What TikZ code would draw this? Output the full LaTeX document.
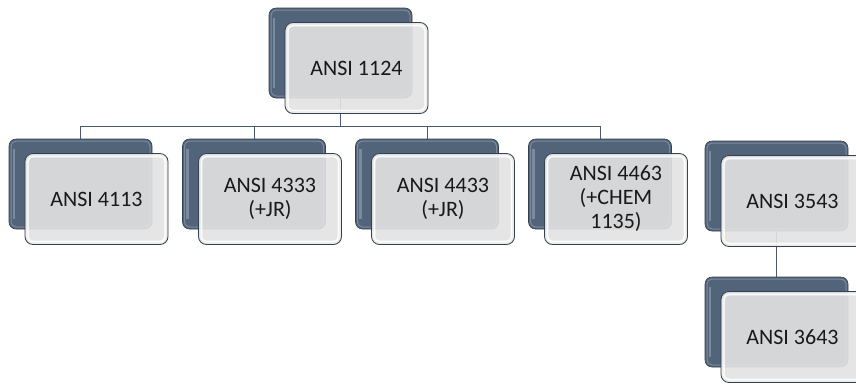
\documentclass[tikz,border=0pt]{standalone}
\usepackage{fontspec}
\setmainfont{Carlito}
\usetikzlibrary{backgrounds,calc}
\definecolor{backfill}{HTML}{52647A}
\definecolor{backedge}{HTML}{34424F}
\definecolor{backhi}{HTML}{8C9CB0}
\definecolor{frontfill}{HTML}{E3E3E3}
\definecolor{frontedge}{HTML}{34414F}
\definecolor{connclr}{HTML}{4A5A6E}
\tikzset{
  backbox/.style={draw=backedge, line width=0.6pt, rounded corners=7pt,
    fill=backfill, minimum width=143pt, minimum height=90pt, inner sep=0pt,
    path picture={
      \draw[backhi, line width=2.5pt, opacity=0.7]
        ([shift={(5pt,-10pt)}]path picture bounding box.north west) --
        ([shift={(5pt,10pt)}]path picture bounding box.south west);
      \draw[white, line width=1pt, opacity=0.25, rounded corners=5pt]
        ([shift={(2pt,-2pt)}]path picture bounding box.north west) rectangle
        ([shift={(-2pt,2pt)}]path picture bounding box.south east);
    }},
  frontbox/.style={draw=frontedge, line width=0.8pt, rounded corners=8pt,
    fill=frontfill, fill opacity=0.9, text opacity=1,
    minimum width=143pt, minimum height=91pt, inner sep=2pt,
    align=center, text=black!90,
    font=\fontsize{22}{24}\selectfont,
    path picture={
      \draw[white, line width=3pt, opacity=0.45, rounded corners=6pt]
        ([shift={(2.5pt,-2.5pt)}]path picture bounding box.north west) rectangle
        ([shift={(-2.5pt,2.5pt)}]path picture bounding box.south east);
      \draw[white, line width=1.2pt, opacity=0.8, rounded corners=5pt]
        ([shift={(3pt,-3pt)}]path picture bounding box.north west) rectangle
        ([shift={(-3pt,3pt)}]path picture bounding box.south east);
    }},
  conn/.style={draw=connclr, line width=1pt}
}
\begin{document}
\begin{tikzpicture}[x=1pt,y=-1pt]
\clip (0,0) rectangle (856,384);
% back boxes
\node[backbox] (topB) at (340.5,53) {};
\node[backbox] (c1B) at (80.5,184) {};
\node[backbox] (c2B) at (254,184) {};
\node[backbox] (c3B) at (427,184) {};
\node[backbox] (c4B) at (600,184) {};
\node[backbox] (r1B) at (776.5,186) {};
\node[backbox] (r2B) at (776.5,322) {};
% front boxes
\node[frontbox] (top) at (356.5,68) {ANSI 1124};
\node[frontbox] (c1) at (96.5,199) {ANSI 4113};
\node[frontbox] (c2) at (270,199) {ANSI 4333\\(+JR)};
\node[frontbox] (c3) at (443,199) {ANSI 4433\\(+JR)};
\node[frontbox] (c4) at (616,199) {ANSI 4463\\(+CHEM\\1135)};
\node[frontbox] (r1) at (792.5,201) {ANSI 3543};
\node[frontbox] (r2) at (792.5,337) {ANSI 3643};
% connectors
\coordinate (bus) at (0,126);
\begin{scope}[on background layer]
\fill[white] (0,0) rectangle (856,384);
\draw[conn] (topB.south) -- (topB.south |- bus);
\draw[conn] (c1B.north |- bus) -- (c4B.north |- bus);
\draw[conn] (c1B.north |- bus) -- (c1B.north);
\draw[conn] (c2B.north |- bus) -- (c2B.north);
\draw[conn] (c3B.north |- bus) -- (c3B.north);
\draw[conn] (c4B.north |- bus) -- (c4B.north);
\draw[conn] (r1B.south) -- (r2B.north);
\end{scope}
\end{tikzpicture}
\end{document}
